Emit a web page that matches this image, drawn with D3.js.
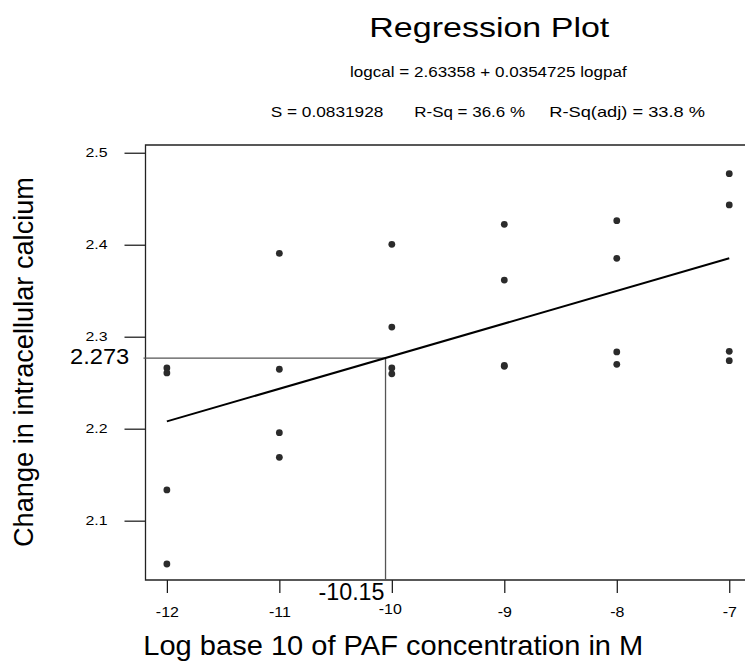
<!DOCTYPE html>
<html>
<head>
<meta charset="utf-8">
<script src="https://cdn.jsdelivr.net/npm/d3@7"></script>
<style>
  html, body { margin: 0; padding: 0; background: #fff; }
  svg { display: block; }
  text { font-family: "Liberation Sans", Arial, sans-serif; fill: #000; }
</style>
</head>
<body>
<svg id="chart" width="745" height="664"></svg>
<script>
// ---- data ----
const logpaf = [-12, -12, -12, -12, -11, -11, -11, -11, -10, -10, -10, -10,
                -9, -9, -9, -9, -8, -8, -8, -8, -7, -7, -7, -7];
const logcal = [2.266, 2.2606, 2.1334, 2.0529,
                2.3906, 2.2646, 2.1957, 2.1689,
                2.4004, 2.3105, 2.2660, 2.2596,
                2.4222, 2.3616, 2.2688, 2.2678,
                2.4261, 2.3852, 2.2834, 2.2700,
                2.4772, 2.4432, 2.2841, 2.2739];
const fitCoef = [2.63358, 0.0354725];          // intercept, slope
const fitRange = [-12, -7];
const refPoint = [-10.056, 2.2768];
const refLabels = ["-10.15", "2.273"];
const xTicks = [-12, -11, -10, -9, -8, -7];
const xTickLabels = ["-12", "-11", "-10", "-9", "-8", "-7"];
const yTicks = [2.1, 2.2, 2.3, 2.4, 2.5];
const yTickLabels = ["2.1", "2.2", "2.3", "2.4", "2.5"];
const xDomain = [-12.19, -6.86];
const yDomain = [2.0355, 2.5084];
const titleText = "Regression Plot";
const equationText = "logcal = 2.63358 + 0.0354725 logpaf";
const statsTexts = ["S = 0.0831928", "R-Sq = 36.6 %", "R-Sq(adj) = 33.8 %"];
const xLabel = "Log base 10 of PAF concentration in M";
const yLabel = "Change in intracellular calcium";

// ---- layout ----
const svg = d3.select("#chart");
const L = 145.5, R = 745, T = 145, B = 580;
const x = d3.scaleLinear().domain(xDomain).range([L, R]);
const y = d3.scaleLinear().domain(yDomain).range([B, T]);

function fit(sel, w) {
  sel.attr("textLength", w).attr("lengthAdjust", "spacingAndGlyphs");
}
function stretch(sel, f) {
  sel.each(function () {
    const n = this.getComputedTextLength();
    d3.select(this).attr("textLength", n * f).attr("lengthAdjust", "spacingAndGlyphs");
  });
}

// titles
svg.append("text").attr("x", 489.3).attr("y", 37.3).attr("text-anchor", "middle")
  .attr("font-size", 28).text(titleText).call(fit, 240);
svg.append("text").attr("x", 350).attr("y", 77.3)
  .attr("font-size", 15).text(equationText).call(fit, 276.7);
const statX = [270.7, 414.3, 549.3], statW = [112.7, 110.7, 155.7];
svg.selectAll("text.stat").data(statsTexts).join("text").attr("class", "stat")
  .attr("x", (d, i) => statX[i]).attr("y", 116.7).attr("font-size", 15)
  .text(d => d)
  .each(function (d, i) { d3.select(this).call(fit, statW[i]); });

// axes
const yAxis = d3.axisLeft(y).tickValues(yTicks).tickSize(21).tickSizeOuter(0)
  .tickPadding(17).tickFormat((d, i) => yTickLabels[i]);
const gy = svg.append("g").attr("transform", `translate(${L},0)`).call(yAxis);
gy.select(".domain").remove();
gy.selectAll(".tick line").attr("stroke", "#111").attr("stroke-width", 1.2);
gy.selectAll(".tick text").attr("font-size", 13).attr("font-family", null)
  .attr("fill", "#000").attr("dy", "0.28em").call(stretch, 1.22);

const xAxis = d3.axisBottom(x).tickValues(xTicks).tickSize(13).tickSizeOuter(0)
  .tickFormat((d, i) => xTickLabels[i]);
const gx = svg.append("g").attr("transform", `translate(0,${B})`).call(xAxis);
gx.select(".domain").remove();
gx.selectAll(".tick line").attr("stroke", "#111").attr("stroke-width", 1.2);
gx.selectAll(".tick text").attr("font-size", 14).attr("font-family", null)
  .attr("fill", "#000").attr("dy", 0)
  .attr("y", d => d === -10 ? 33.8 : 37.2)
  .attr("x", d => d === -10 ? -2 : 0)
  .call(stretch, 1.14);

// frame (open at right, clipped by page)
const frame = d3.path();
frame.moveTo(R + 5, T); frame.lineTo(L, T); frame.lineTo(L, B); frame.lineTo(R + 5, B);
svg.append("path").attr("d", frame.toString()).attr("fill", "none")
  .attr("stroke", "#222").attr("stroke-width", 1.3);

// reference lines
svg.append("line").attr("x1", L - 2).attr("x2", x(refPoint[0]))
  .attr("y1", y(refPoint[1])).attr("y2", y(refPoint[1]))
  .attr("stroke", "#555").attr("stroke-width", 1.3);
svg.append("line").attr("x1", x(refPoint[0])).attr("x2", x(refPoint[0]))
  .attr("y1", y(refPoint[1])).attr("y2", B)
  .attr("stroke", "#555").attr("stroke-width", 1.3);
svg.append("text").attr("x", x(refPoint[0]) - 1).attr("y", 600).attr("text-anchor", "end")
  .attr("font-size", 23).text(refLabels[0]).call(fit, 66);
svg.append("text").attr("x", 129.3).attr("y", 363.6).attr("text-anchor", "end")
  .attr("font-size", 22).text(refLabels[1]).call(fit, 59.3);

// regression line
const line = d3.line().x(d => x(d)).y(d => y(fitCoef[0] + fitCoef[1] * d));
svg.append("path").datum(fitRange).attr("d", line).attr("fill", "none")
  .attr("stroke", "#000").attr("stroke-width", 2);

// points
svg.selectAll("circle.pt").data(logpaf).join("circle").attr("class", "pt")
  .attr("cx", d => x(d)).attr("cy", (d, i) => y(logcal[i]))
  .attr("r", 3.4).attr("fill", "#2b2b2b");

// axis titles
svg.append("text").attr("x", 143.3).attr("y", 655).attr("font-size", 28)
  .text(xLabel).call(fit, 500);
svg.append("text").attr("transform", "translate(33,362) rotate(-90)")
  .attr("text-anchor", "middle").attr("font-size", 27).text(yLabel).call(fit, 370);
</script>
</body>
</html>
